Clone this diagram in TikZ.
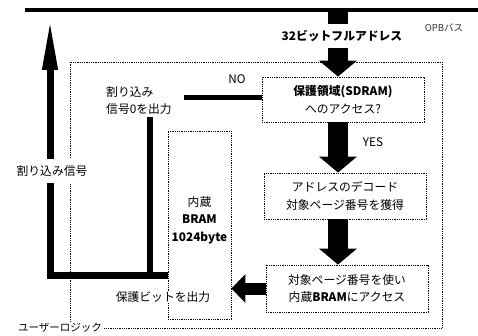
\documentclass[tikz,border=0pt]{standalone}
\usepackage{fontspec}
\setmainfont{Noto Sans CJK JP}
\usetikzlibrary{arrows.meta}
\begin{document}
\begin{tikzpicture}[x=1pt,y=-1pt,
  txt/.style={font=\fontsize{11.8}{17.5}\selectfont, align=center, inner sep=1pt},
  dbox/.style={draw, densely dotted, line width=0.8pt, minimum width=162pt, inner sep=0pt,
    font=\fontsize{11.8}{17.5}\selectfont, align=center},
  fat/.style={line width=20pt, -{Triangle[width=37pt,length=16pt]}},
  wlabel/.style={txt, fill=white, minimum height=24pt},
]
\useasboundingbox (0,0) rectangle (478,336);
% bus
\coordinate (busL) at (25,10.5);
\coordinate (busR) at (478,10.5);
\draw[line width=4pt] (busL) -- (busR);
\node[font=\fontsize{9.5}{11}\selectfont, text=black!80] (opb) at (444,28) {OPBバス};
% outer user-logic box
\node[dbox, minimum width=372pt, minimum height=266pt] (ul) at (256,195) {};
% boxes
\node[dbox, minimum height=45pt] (dec) at (343,99.5) {\textbf{保護領域(SDRAM)}\\へのアクセス?};
\node[dbox, minimum height=46pt] (box2) at (345,196) {アドレスのデコード\\対象ページ番号を獲得};
\node[dbox, minimum height=47pt] (box3) at (347,288.5) {対象ページ番号を使い\\内蔵\textbf{BRAM}にアクセス};
\node[dbox, minimum width=63pt, minimum height=188pt] (bram) at (199.5,225) {};
\node[txt] (bramtxt) at (199.5,220) {内蔵\\\textbf{BRAM}\\\textbf{1024byte}};
% column of fat arrows
\coordinate (drop) at (338,10.5);
\draw[fat] (drop) -- (dec.north -| drop);
\node[wlabel] (addr) at (342,36) {\bfseries 32ビットフルアドレス};
\draw[fat] (dec.south -| drop) -- (box2.north -| drop);
\node[txt] (yes) at (373,142) {YES};
\draw[fat] (box2.south -| drop) -- (box3.north -| drop);
% arrow to BRAM
\draw[line width=12pt, -{Triangle[width=28pt,length=14pt]}] (box3.west) -- (bram.east |- box3.west);
% NO branch
\coordinate (noend) at (184,98);
\draw[line width=5pt] (dec.west |- noend) -- (noend);
\node[txt] (no) at (237,79) {NO};
\node[txt, align=left, anchor=west] (irq0) at (105,100.5) {割り込み\\信号0を出力};
\coordinate (v0) at (150,117);
\coordinate (vj) at (150,275.5);
\draw[line width=6pt] (v0) -- (vj);
% interrupt line
\coordinate (corner) at (50,275.5);
\coordinate (tip) at (50,18);
\draw[line width=7pt, line join=miter, -{Triangle[width=14pt,length=52pt]}] (bram.west |- corner) -- (corner) -- (tip);
\node[wlabel] (irq) at (52,171) {割り込み信号};
% labels with white background
\node[txt, fill=white] (pbit) at (163,297) {保護ビットを出力};
\node[txt, fill=white, font=\fontsize{10.5}{12}\selectfont] (ullbl) at (60,328) {ユーザーロジック};
\end{tikzpicture}
\end{document}
